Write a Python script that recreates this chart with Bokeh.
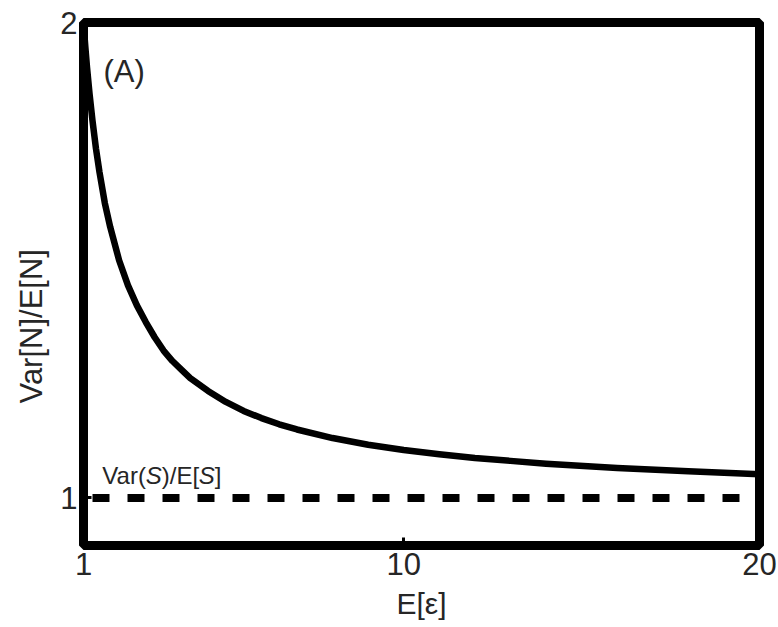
from bokeh.plotting import figure
from bokeh.models import Range1d, FixedTicker, Title
from bokeh.core.properties import value
from bokeh.embed import file_html
from bokeh.resources import INLINE

# Curve: Var[N]/E[N] against E[eps]
e_eps = [1.0, 1.05, 1.1, 1.17, 1.25, 1.35, 1.45, 1.6, 1.75, 1.9, 2.0, 2.25, 2.5, 2.75, 3.0,
         3.25, 3.5, 3.75, 4.0, 4.5, 5.0, 5.5, 6.0, 6.5, 7.0, 8.0, 9.0, 10.0, 11.0, 12.0,
         13.0, 14.0, 16.0, 18.0, 20.0]
var_ratio = [2.0, 1.95, 1.905, 1.85, 1.795, 1.735, 1.685, 1.62, 1.57, 1.528, 1.50, 1.447,
             1.405, 1.37, 1.338, 1.31, 1.288, 1.27, 1.252, 1.225, 1.202, 1.183, 1.168, 1.155,
             1.144, 1.126, 1.112, 1.101, 1.092, 1.084, 1.078, 1.072, 1.063, 1.056, 1.05]

# Reference level Var(S)/E[S]
ref_x = [1.0, 20.0]
ref_y = [1.0, 1.0]

x_ticks = [1, 10, 20]
y_ticks = [1, 2]

FONT = "Liberation Sans"
TXT = "#262626"

p = figure(width=778, height=627, output_backend="svg", toolbar_location=None,
           x_range=Range1d(1, 20), y_range=Range1d(0.9, 2.0),
           min_border_left=83, min_border_right=19, min_border_top=22, min_border_bottom=82)

p.grid.visible = False
p.background_fill_color = "white"
p.border_fill_color = "white"
p.outline_line_color = "black"
p.outline_line_width = 9

p.xaxis.ticker = FixedTicker(ticks=x_ticks)
p.xaxis.axis_label = "E[ε]"
p.yaxis.ticker = FixedTicker(ticks=y_ticks)

for ax in list(p.xaxis) + list(p.yaxis):
    ax.axis_line_color = None
    ax.major_tick_in = 8
    ax.major_tick_out = 0
    ax.major_tick_line_width = 3
    ax.minor_tick_line_color = None
    ax.major_label_text_font = FONT
    ax.major_label_text_color = TXT
    ax.axis_label_text_font = FONT
    ax.axis_label_text_font_style = "normal"
    ax.axis_label_text_color = TXT

p.xaxis.major_label_text_font_size = "31px"
p.xaxis.major_label_standoff = 7
p.xaxis.axis_label_text_font_size = "30px"
p.xaxis.axis_label_standoff = 9

p.yaxis.major_label_text_font_size = "31px"
p.yaxis.major_label_standoff = 6

# y-axis title placed as a side title so it can sit where the reference has it
ytitle = Title(text="Var[N]/E[N]", align="left", offset=142, standoff=17,
               text_font=FONT, text_font_size="31px", text_font_style="normal",
               text_color=TXT)
p.add_layout(ytitle, "left")

# data
p.line(e_eps, var_ratio, line_width=6.5, line_color="black", line_join="round")
p.line(ref_x, ref_y, line_width=8, line_color="black", line_dash="17 18", line_dash_offset=26)

# annotations
p.text(x=[1.56], y=[1.897], text=["(A)"], text_font=value(FONT), text_font_size="31px",
       text_color=TXT, text_baseline="alphabetic", text_align="left")

pieces = ["Var(", "S", ")/E[", "S", "]"]
styles = ["normal", "italic", "normal", "italic", "normal"]
offsets = [0, 43.5, 59.5, 96.5, 112.5]
for t, s, o in zip(pieces, styles, offsets):
    p.text(x=[1.53], y=[1.048], text=[t], x_offset=o, text_font=value(FONT),
           text_font_size="24px", text_font_style=s, text_color=TXT,
           text_baseline="alphabetic", text_align="left")

open("out.html", "w").write(file_html(p, INLINE))
